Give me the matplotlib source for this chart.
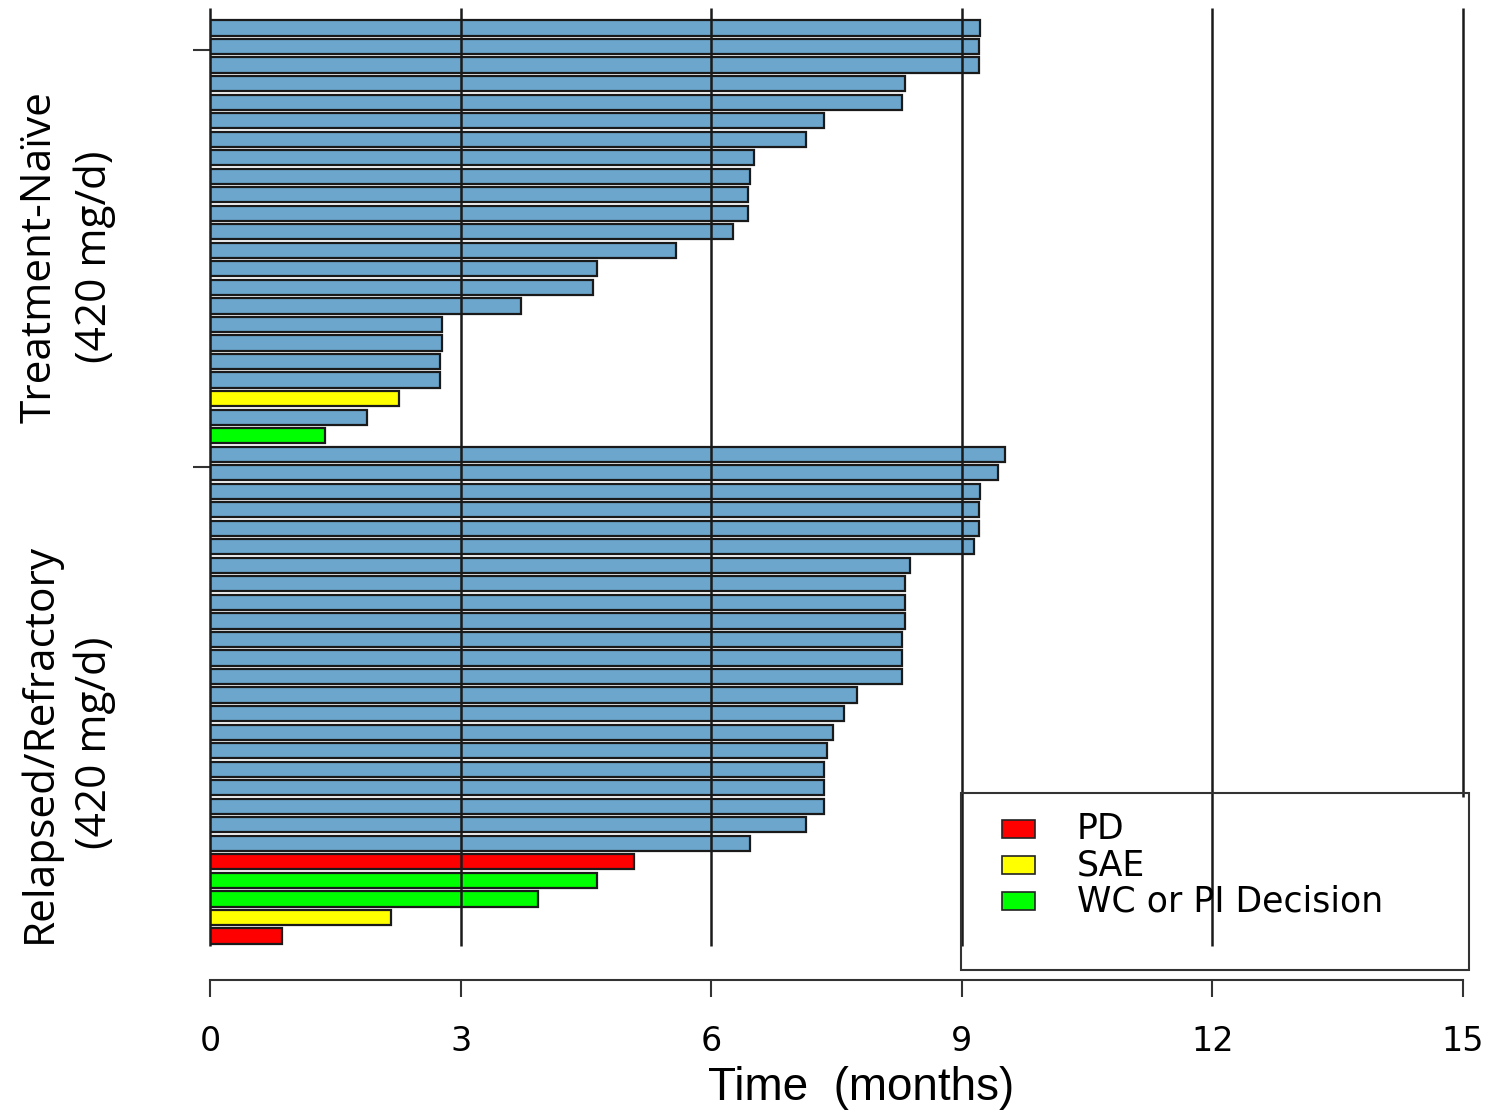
import matplotlib
matplotlib.use("Agg")
from matplotlib import pyplot as plt
from matplotlib.patches import Rectangle
import numpy as np

# months on study, per patient, top to bottom
naive_months = [9.22, 9.20, 9.20, 8.32, 8.28, 7.35, 7.13, 6.51, 6.47, 6.44, 6.44, 6.26,
                5.58, 4.63, 4.59, 3.72, 2.78, 2.78, 2.75, 2.75, 2.26, 1.88, 1.38]
naive_reason = ["ongoing"] * 20 + ["SAE", "ongoing", "WC"]

rr_months = [9.52, 9.43, 9.22, 9.20, 9.20, 9.15, 8.38, 8.32, 8.32, 8.32, 8.28, 8.28, 8.28,
             7.75, 7.59, 7.46, 7.39, 7.35, 7.35, 7.35, 7.13, 6.47, 5.08, 4.63, 3.93, 2.17, 0.86]
rr_reason = ["ongoing"] * 22 + ["PD", "WC", "WC", "SAE", "PD"]

group_labels = ["Treatment-Naïve\n(420 mg/d)", "Relapsed/Refractory\n(420 mg/d)"]
legend_labels = ["PD", "SAE", "WC or PI Decision"]
legend_keys = ["PD", "SAE", "WC"]
xticks = [0, 3, 6, 9, 12, 15]

colors = {"ongoing": "#6CA6CD", "PD": "#FF0000", "SAE": "#FFFF00", "WC": "#00FF00"}

W, H = 1495, 1117
fig = plt.figure(figsize=(W / 100, H / 100), dpi=100)

# axes: x 0..15 -> px 210..1463, y top px 8, bottom px 980
ax = fig.add_axes([210 / W, 1 - 980 / H, (1463 - 210) / W, (980 - 8) / H])

months = naive_months + rr_months
reason = naive_reason + rr_reason
ypos = np.arange(len(months))
step = 18.53
ax.set_xlim(0, 15)
ax.set_ylim((980 - 28) / step, -20 / step)

ax.barh(ypos, months, height=0.82, color=[colors[r] for r in reason],
        edgecolor="#1a1a1a", linewidth=1.6, zorder=2)

# vertical lines drawn over the bars
grid_end = (946 - 28) / step
for xv in xticks:
    yend = grid_end
    if xv == 15:
        yend = (797 - 28) / step
    ax.plot([xv, xv], [-20 / step, yend], color="#1a1a1a", lw=1.8, zorder=3,
            solid_capstyle="butt", clip_on=False)

for s in ["top", "right", "left"]:
    ax.spines[s].set_visible(False)
ax.spines["bottom"].set_color("#333333")
ax.spines["bottom"].set_linewidth(1.5)

ax.set_xticks(xticks)
ax.set_xticklabels([str(v) for v in xticks], fontsize=24, family="DejaVu Sans")
ax.tick_params(axis="x", length=12.5, width=1.5, color="#333333", pad=20)
ax.set_yticks([(50 - 28) / step, (467 - 28) / step])
ax.set_yticklabels([])
ax.tick_params(axis="y", length=12.5, width=1.5, color="#333333")

fig.text(861 / W, 1 - 1088 / H, "Time  (months)", fontsize=33, family="Liberation Sans",
         ha="center", va="center")

fig.text(67 / W, 1 - 257 / H, group_labels[0], rotation=90, fontsize=30.5, family="Open Sans",
         ha="center", va="center", multialignment="center", linespacing=1.4)
fig.text(67 / W, 1 - 743 / H, group_labels[1], rotation=90, fontsize=30.5, family="Open Sans",
         ha="center", va="center", multialignment="center", linespacing=1.4)

# legend box drawn by hand
fig.add_artist(Rectangle((961 / W, 1 - 970 / H), (1469 - 961) / W, (970 - 793) / H,
                         transform=fig.transFigure, fill=False, edgecolor="#333333", lw=1.5))
for i, (key, lab) in enumerate(zip(legend_keys, legend_labels)):
    yc = 829 + i * 36
    fig.add_artist(Rectangle((1002 / W, 1 - (yc + 9) / H), 33 / W, 18 / H,
                             transform=fig.transFigure, facecolor=colors[key],
                             edgecolor="#222222", lw=1.2))
    fig.text(1077 / W, 1 - yc / H, lab, fontsize=25, family="DejaVu Sans",
             ha="left", va="center")

fig.savefig("out.png", dpi=100)
